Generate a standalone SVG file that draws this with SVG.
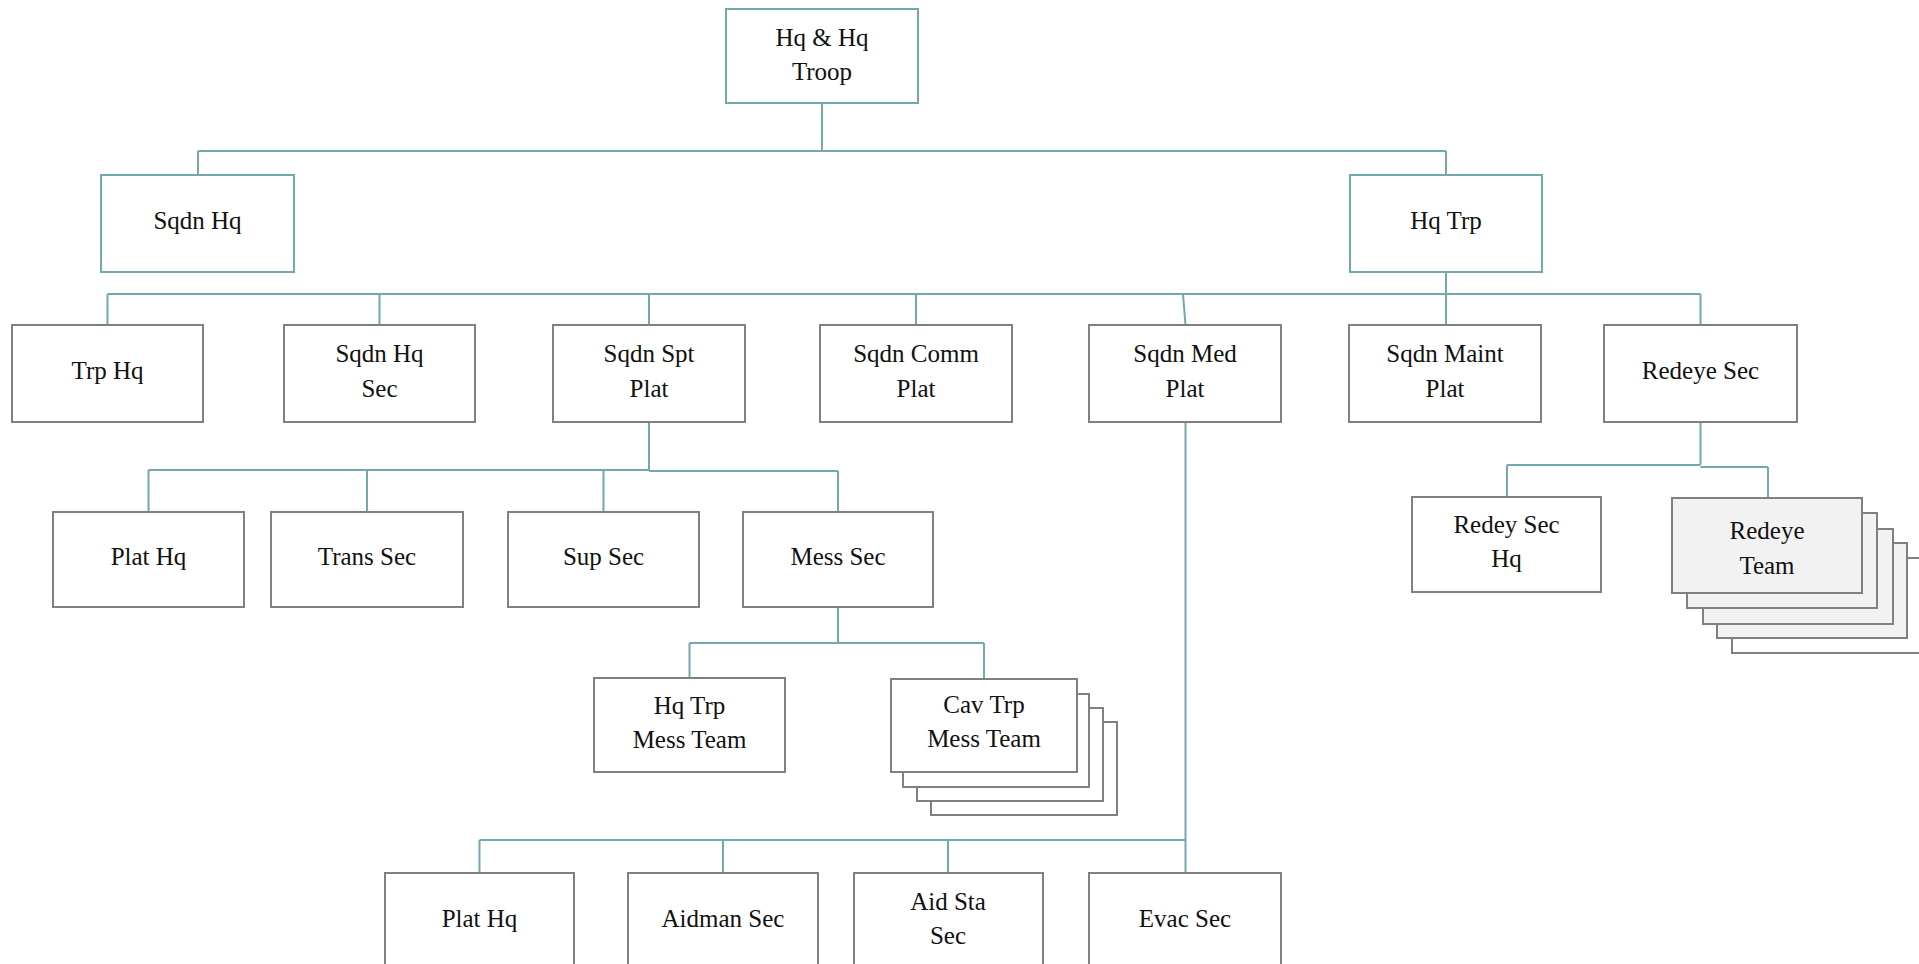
<svg xmlns="http://www.w3.org/2000/svg" width="1919" height="964" viewBox="0 0 1919 964">
<style>
  .bt { fill: #ffffff; stroke: #72a8ae; stroke-width: 2; }
  .bg { fill: #ffffff; stroke: #808080; stroke-width: 2; }
  .bf { fill: #f2f2f2; stroke: #808080; stroke-width: 2; }
  .c { fill: none; stroke: #72a8ae; stroke-width: 2; }
  text { font-family: "Liberation Serif", "Times New Roman", serif; font-size: 25px; fill: #111111; text-anchor: middle; }
</style>
<rect width="1919" height="964" fill="#ffffff"/>
<g id="connectors">
  <path class="c" d="M822 103 V151 M198 151 H1446 M198 151 V175 M1446 151 V175"/>
  <path class="c" d="M1446 272 V294 M107.5 294 H1700.5 M107.5 294 V325 M379.5 294 V325 M649 294 V325 M916 294 V325 M1183 294 L1185.5 325 M1446 294 V325 M1700.5 294 V325"/>
  <path class="c" d="M649 422 V470 M148.5 470 H649 M649 471 H838 M148.5 470 V512 M367 470 V512 M603.5 470 V512 M838 471 V512"/>
  <path class="c" d="M838 607 V643 M689.5 643 H984 M689.5 643 V678 M984 643 V679"/>
  <path class="c" d="M1185.5 422 V840 M479.5 840 H1185.5 M479.5 840 V873 M723 840 V873 M948 840 V873 M1185.5 840 V873"/>
  <path class="c" d="M1700.5 422 V465 M1507 465 H1700.5 M1700.5 467 H1768 M1507 465 V497 M1768 467 V498"/>
</g>
<g id="n-hqhqtroop"><rect class="bt" x="726" y="9" width="192" height="94"/><text x="822" y="46">Hq &amp; Hq</text><text x="822" y="80">Troop</text></g>
<g id="n-sqdnhq"><rect class="bt" x="101" y="175" width="193" height="97"/><text x="197.5" y="229">Sqdn Hq</text></g>
<g id="n-hqtrp"><rect class="bt" x="1350" y="175" width="192" height="97"/><text x="1446" y="229">Hq Trp</text></g>

<g id="n-trphq"><rect class="bg" x="12" y="325" width="191" height="97"/><text x="107.5" y="379">Trp Hq</text></g>
<g id="n-sqdnhqsec"><rect class="bg" x="284" y="325" width="191" height="97"/><text x="379.5" y="362">Sqdn Hq</text><text x="379.5" y="397">Sec</text></g>
<g id="n-sqdnsptplat"><rect class="bg" x="553" y="325" width="192" height="97"/><text x="649" y="362">Sqdn Spt</text><text x="649" y="397">Plat</text></g>
<g id="n-sqdncommplat"><rect class="bg" x="820" y="325" width="192" height="97"/><text x="916" y="362">Sqdn Comm</text><text x="916" y="397">Plat</text></g>
<g id="n-sqdnmedplat"><rect class="bg" x="1089" y="325" width="192" height="97"/><text x="1185" y="362">Sqdn Med</text><text x="1185" y="397">Plat</text></g>
<g id="n-sqdnmaintplat"><rect class="bg" x="1349" y="325" width="192" height="97"/><text x="1445" y="362">Sqdn Maint</text><text x="1445" y="397">Plat</text></g>
<g id="n-redeyesec"><rect class="bg" x="1604" y="325" width="193" height="97"/><text x="1700.5" y="379">Redeye Sec</text></g>

<g id="n-plathq1"><rect class="bg" x="53" y="512" width="191" height="95"/><text x="148.5" y="565">Plat Hq</text></g>
<g id="n-transsec"><rect class="bg" x="271" y="512" width="192" height="95"/><text x="367" y="565">Trans Sec</text></g>
<g id="n-supsec"><rect class="bg" x="508" y="512" width="191" height="95"/><text x="603.5" y="565">Sup Sec</text></g>
<g id="n-messsec"><rect class="bg" x="743" y="512" width="190" height="95"/><text x="838" y="565">Mess Sec</text></g>

<g id="n-redeysechq"><rect class="bg" x="1412" y="497" width="189" height="95"/><text x="1506.5" y="533">Redey Sec</text><text x="1506.5" y="567">Hq</text></g>
<g id="n-redeyeteam">
  <rect class="bg" x="1732" y="558" width="190" height="95"/>
  <rect class="bf" x="1717" y="543" width="190" height="95"/>
  <rect class="bf" x="1703" y="529" width="190" height="95"/>
  <rect class="bf" x="1687" y="513" width="190" height="95"/>
  <rect class="bf" x="1672" y="498" width="190" height="95"/>
  <text x="1767" y="539">Redeye</text><text x="1767" y="574">Team</text>
</g>

<g id="n-hqtrpmessteam"><rect class="bg" x="594" y="678" width="191" height="94"/><text x="689.5" y="714">Hq Trp</text><text x="689.5" y="748">Mess Team</text></g>
<g id="n-cavtrpmessteam">
  <rect class="bg" x="931" y="722" width="186" height="93"/>
  <rect class="bg" x="917" y="708" width="186" height="93"/>
  <rect class="bg" x="903" y="694" width="186" height="93"/>
  <rect class="bg" x="891" y="679" width="186" height="93"/>
  <text x="984" y="713">Cav Trp</text><text x="984" y="747">Mess Team</text>
</g>

<g id="n-plathq2"><rect class="bg" x="385" y="873" width="189" height="95"/><text x="479.5" y="927">Plat Hq</text></g>
<g id="n-aidmansec"><rect class="bg" x="628" y="873" width="190" height="95"/><text x="723" y="927">Aidman Sec</text></g>
<g id="n-aidstasec"><rect class="bg" x="854" y="873" width="189" height="95"/><text x="948" y="910">Aid Sta</text><text x="948" y="944">Sec</text></g>
<g id="n-evacsec"><rect class="bg" x="1089" y="873" width="192" height="95"/><text x="1185" y="927">Evac Sec</text></g>
</svg>
